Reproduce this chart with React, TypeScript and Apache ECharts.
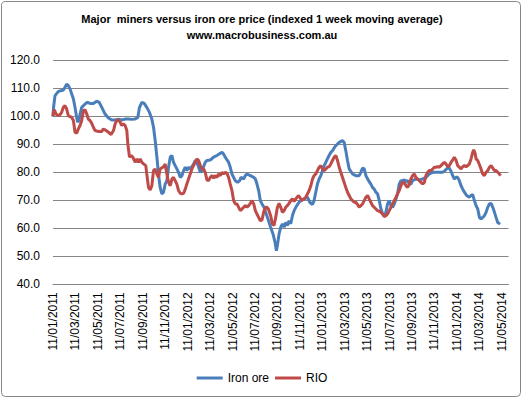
import React, { useEffect, useRef } from "react";
import * as echarts from "echarts";

// x = months since 11/01/2011 (dd/mm/yyyy)
const tickLabels = [
  "11/01/2011", "11/03/2011", "11/05/2011", "11/07/2011", "11/09/2011", "11/11/2011",
  "11/01/2012", "11/03/2012", "11/05/2012", "11/07/2012", "11/09/2012", "11/11/2012",
  "11/01/2013", "11/03/2013", "11/05/2013", "11/07/2013", "11/09/2013", "11/11/2013",
  "11/01/2014", "11/03/2014", "11/05/2014",
];

const ironOre: number[][] = [
  [0, 100], [0.05, 103.2], [0.18, 107.4], [0.48, 108.9], [0.77, 109.2], [0.92, 109.4],
  [1.07, 110.4], [1.22, 111.5], [1.37, 110.9], [1.52, 109.8], [1.67, 108.0], [1.82, 106.2],
  [1.96, 103.2], [2.11, 99.6], [2.2, 97.9], [2.32, 98.5], [2.41, 100.8], [2.56, 103.2],
  [2.86, 104.4], [3.07, 105.0], [3.3, 104.6], [3.6, 104.6], [3.9, 105.4], [4.11, 105.0],
  [4.35, 103.2], [4.64, 100.8], [4.94, 99.4], [5.24, 98.7], [5.54, 98.7], [5.83, 99.0],
  [6.13, 98.7], [6.43, 99.0], [6.73, 99.0], [7.02, 98.9], [7.32, 99.0], [7.56, 99.6],
  [7.71, 103.2], [7.92, 105.0], [8.13, 104.6], [8.36, 103.2], [8.6, 101.4], [8.81, 99.0],
  [8.96, 96.1], [9.11, 91.3], [9.26, 85.4], [9.4, 79.4], [9.55, 74.6], [9.7, 72.3],
  [9.85, 72.9], [10.0, 75.8], [10.15, 77.0], [10.3, 81.8], [10.45, 85.4], [10.6, 86.0],
  [10.74, 83.6], [10.89, 82.4], [11.04, 81.2], [11.19, 80.0], [11.34, 78.2], [11.49, 78.8],
  [11.64, 80.6], [11.79, 81.8], [11.93, 80.6], [12.08, 81.8], [12.23, 81.2], [12.38, 82.0],
  [12.53, 83.0], [12.68, 84.2], [12.83, 83.6], [12.98, 81.8], [13.13, 80.0], [13.27, 80.6],
  [13.42, 82.0], [13.57, 83.6], [13.72, 84.2], [14.02, 84.4], [14.32, 85.4], [14.61, 86.0],
  [14.91, 86.8], [15.06, 87.1], [15.21, 86.5], [15.36, 85.4], [15.51, 84.4], [15.65, 83.6],
  [15.8, 81.8], [15.95, 79.4], [16.1, 78.2], [16.25, 77.0], [16.46, 76.4], [16.64, 77.0],
  [16.76, 78.2], [16.99, 77.6], [17.14, 78.8], [17.29, 79.4], [17.59, 78.8], [17.89, 78.2],
  [18.04, 77.6], [18.18, 75.8], [18.33, 73.5], [18.48, 69.9], [18.63, 68.7], [18.81, 67.5],
  [19.11, 63.9], [19.4, 60.4], [19.61, 58.0], [19.79, 55.0], [19.91, 52.0], [20.0, 53.8],
  [20.15, 58.0], [20.3, 60.4], [20.45, 61.6], [20.6, 60.4], [20.74, 62.1], [20.89, 61.0],
  [21.04, 62.7], [21.19, 61.6], [21.34, 64.5], [21.49, 66.3], [21.64, 67.5], [21.93, 69.3],
  [22.08, 69.9], [22.38, 70.5], [22.68, 71.1], [22.89, 69.3], [23.13, 68.5], [23.27, 69.9],
  [23.42, 72.9], [23.57, 75.8], [23.72, 77.6], [23.87, 78.8], [24.02, 80.6], [24.17, 82.4],
  [24.32, 83.6], [24.46, 84.8], [24.61, 86.0], [24.76, 87.1], [24.91, 87.7], [25.06, 88.7],
  [25.21, 89.5], [25.51, 90.7], [25.8, 91.3], [25.95, 90.7], [26.1, 87.7], [26.25, 84.2],
  [26.4, 81.2], [26.7, 79.4], [26.99, 78.8], [27.29, 78.8], [27.44, 80.0], [27.59, 81.5],
  [27.74, 81.2], [27.89, 78.8], [28.13, 77.0], [28.33, 75.8], [28.48, 74.6], [28.63, 74.0],
  [28.78, 72.9], [28.93, 72.3], [29.08, 69.9], [29.23, 66.9], [29.38, 65.1], [29.52, 64.5],
  [29.67, 65.7], [29.82, 68.7], [29.97, 69.9], [30.12, 68.1], [30.27, 67.5], [30.42, 68.7],
  [30.57, 70.5], [30.71, 72.3], [30.86, 75.8], [31.01, 77.0], [31.16, 77.0], [31.31, 77.3],
  [31.46, 76.8], [31.61, 77.0], [31.76, 75.8], [31.9, 75.8], [32.05, 77.0], [32.35, 77.6],
  [32.65, 77.3], [32.95, 77.6], [33.24, 78.2], [33.54, 79.4], [33.84, 80.0], [34.14, 80.0],
  [34.43, 80.0], [34.73, 80.0], [34.88, 80.4], [35.09, 81.2], [35.27, 81.8], [35.48, 80.4],
  [35.63, 78.8], [35.77, 77.6], [35.92, 78.2], [36.07, 78.2], [36.22, 77.0], [36.37, 75.2],
  [36.52, 74.0], [36.67, 72.9], [36.88, 71.7], [37.11, 71.1], [37.26, 71.7], [37.41, 72.0],
  [37.56, 69.9], [37.71, 68.1], [37.86, 66.9], [38.01, 63.9], [38.15, 63.3], [38.3, 63.9],
  [38.45, 64.5], [38.6, 65.7], [38.75, 67.5], [38.9, 68.7], [39.05, 68.9], [39.2, 67.5],
  [39.35, 65.7], [39.49, 63.9], [39.64, 62.1], [39.85, 61.5],
];

const rio: number[][] = [
  [0, 100], [0.03, 101.4], [0.12, 102.3], [0.27, 100.8], [0.48, 100.2], [0.63, 100.6],
  [0.77, 101.4], [0.92, 103.2], [1.07, 103.8], [1.22, 102.6], [1.37, 100.2], [1.52, 99.9],
  [1.67, 99.6], [1.82, 98.5], [1.96, 94.3], [2.11, 94.0], [2.26, 95.5], [2.41, 96.7],
  [2.56, 98.5], [2.71, 102.0], [2.86, 102.3], [3.01, 100.8], [3.15, 99.0], [3.3, 98.5],
  [3.45, 97.5], [3.6, 96.1], [3.75, 94.9], [4.05, 94.6], [4.35, 94.6], [4.49, 95.5],
  [4.73, 94.9], [4.94, 94.3], [5.18, 93.5], [5.39, 94.9], [5.54, 97.3], [5.68, 98.5],
  [5.83, 98.7], [5.98, 97.9], [6.13, 96.7], [6.28, 97.3], [6.43, 96.7], [6.58, 94.9],
  [6.67, 90.1], [6.82, 85.4], [6.96, 86.0], [7.11, 85.4], [7.32, 83.6], [7.47, 84.8],
  [7.62, 83.6], [7.77, 84.8], [7.92, 83.6], [8.07, 83.0], [8.27, 82.4], [8.36, 79.4],
  [8.51, 74.6], [8.66, 73.7], [8.81, 75.2], [8.96, 80.6], [9.11, 81.2], [9.26, 79.4],
  [9.4, 78.2], [9.55, 81.2], [9.85, 82.0], [10.0, 83.0], [10.15, 79.4], [10.3, 76.4],
  [10.45, 75.2], [10.6, 77.6], [10.74, 78.2], [10.89, 77.0], [11.04, 75.8], [11.19, 73.5],
  [11.34, 72.5], [11.49, 72.3], [11.64, 72.5], [11.79, 74.0], [11.93, 75.8], [12.08, 77.6],
  [12.23, 79.4], [12.38, 81.2], [12.53, 82.4], [12.68, 83.6], [12.83, 84.8], [12.98, 84.2],
  [13.13, 82.4], [13.27, 81.2], [13.42, 81.2], [13.57, 80.0], [13.72, 77.3], [13.87, 77.0],
  [14.02, 78.2], [14.17, 78.8], [14.32, 77.9], [14.46, 78.8], [14.61, 78.2], [14.76, 79.4],
  [14.91, 78.8], [15.06, 80.0], [15.21, 79.4], [15.36, 80.0], [15.51, 79.6], [15.65, 78.2],
  [15.8, 75.8], [15.95, 73.5], [16.1, 69.9], [16.25, 68.7], [16.4, 68.7], [16.55, 67.5],
  [16.7, 66.3], [16.85, 66.9], [16.99, 67.5], [17.14, 68.1], [17.29, 67.5], [17.44, 68.1],
  [17.59, 68.9], [17.74, 69.9], [17.89, 68.7], [18.04, 66.3], [18.18, 65.1], [18.33, 63.9],
  [18.48, 62.7], [18.63, 63.0], [18.81, 66.3], [19.02, 67.7], [19.2, 66.9], [19.4, 64.5],
  [19.55, 61.6], [19.7, 61.0], [19.85, 63.9], [20.0, 67.5], [20.15, 68.9], [20.3, 67.5],
  [20.45, 65.7], [20.6, 66.3], [20.74, 67.5], [20.89, 68.1], [21.04, 68.9], [21.19, 69.9],
  [21.34, 70.5], [21.49, 69.6], [21.64, 70.5], [21.87, 71.7], [21.99, 71.1], [22.17, 69.9],
  [22.38, 70.5], [22.53, 71.1], [22.68, 72.3], [22.83, 73.5], [22.98, 75.2], [23.13, 77.6],
  [23.27, 78.8], [23.42, 79.4], [23.57, 80.6], [23.72, 81.8], [23.87, 82.4], [24.02, 81.2],
  [24.17, 80.6], [24.32, 81.2], [24.46, 81.8], [24.61, 82.0], [24.76, 83.0], [24.91, 84.2],
  [25.06, 85.4], [25.21, 86.0], [25.36, 84.2], [25.51, 81.8], [25.65, 80.0], [25.8, 78.2],
  [25.95, 76.4], [26.1, 74.6], [26.25, 72.9], [26.4, 71.7], [26.55, 70.5], [26.7, 69.9],
  [26.85, 69.3], [26.99, 69.3], [27.14, 68.5], [27.29, 67.5], [27.44, 68.1], [27.59, 68.7],
  [27.74, 69.9], [27.89, 71.1], [28.04, 71.7], [28.19, 70.5], [28.33, 69.3], [28.48, 68.1],
  [28.63, 67.5], [28.78, 66.9], [28.93, 66.3], [29.08, 66.1], [29.23, 65.7], [29.38, 65.1],
  [29.52, 64.2], [29.67, 64.5], [29.82, 65.1], [29.97, 66.3], [30.12, 67.5], [30.27, 68.7],
  [30.42, 69.9], [30.57, 71.1], [30.71, 72.3], [30.86, 73.5], [31.01, 75.2], [31.16, 76.4],
  [31.31, 76.4], [31.46, 75.2], [31.61, 74.6], [31.76, 75.8], [31.9, 77.6], [32.05, 78.8],
  [32.2, 79.4], [32.35, 78.2], [32.5, 77.6], [32.65, 77.0], [32.8, 76.4], [32.95, 75.8],
  [33.1, 76.4], [33.24, 78.8], [33.39, 80.0], [33.54, 80.6], [33.69, 80.6], [33.84, 81.2],
  [33.99, 81.8], [34.14, 81.8], [34.29, 82.0], [34.43, 81.8], [34.58, 82.4], [34.73, 83.0],
  [34.88, 83.6], [35.03, 83.0], [35.18, 82.0], [35.33, 82.4], [35.48, 83.6], [35.63, 84.4],
  [35.77, 85.4], [35.92, 84.4], [36.07, 82.4], [36.22, 81.8], [36.37, 81.2], [36.52, 82.0],
  [36.67, 82.4], [36.82, 82.0], [36.96, 82.4], [37.11, 83.0], [37.26, 84.8], [37.41, 87.1],
  [37.5, 88.0], [37.62, 86.8], [37.71, 84.8], [37.86, 84.2], [38.01, 82.7], [38.15, 81.2],
  [38.3, 79.4], [38.45, 78.8], [38.6, 80.0], [38.75, 80.6], [38.9, 81.8], [39.05, 82.4],
  [39.2, 81.5], [39.35, 80.6], [39.49, 80.6], [39.64, 80.0], [39.79, 79.4], [39.88, 78.8],
];

const FONT = "'Liberation Sans', Arial, sans-serif";

export default function App() {
  const ref = useRef<HTMLDivElement>(null);
  useEffect(() => {
    const chart = echarts.init(ref.current!, null, { renderer: "svg" });
    chart.setOption({
      animation: false,
      backgroundColor: "#ffffff",
      textStyle: { fontFamily: FONT },
      title: [
        {
          text: "Major  miners versus iron ore price (indexed 1 week moving average)",
          left: "center",
          top: 13,
          padding: 0,
          textStyle: { fontSize: 11, fontWeight: "bold", color: "#000", fontFamily: FONT },
        },
        {
          text: "www.macrobusiness.com.au",
          left: "center",
          top: 29,
          padding: 0,
          textStyle: { fontSize: 11, fontWeight: "bold", color: "#000", fontFamily: FONT },
        },
      ],
      graphic: [
        {
          type: "rect",
          shape: { x: 1.5, y: 1.5, width: 519, height: 395, r: 4 },
          style: { fill: "none", stroke: "#868686", lineWidth: 1 },
          silent: true,
          z: -1,
        },
      ],
      legend: {
        top: 372,
        left: "center",
        padding: 0,
        itemWidth: 26,
        itemHeight: 3,
        itemGap: 6,
        icon: "rect",
        textStyle: { fontSize: 12, color: "#000", fontFamily: FONT },
        data: ["Iron ore", "RIO"],
      },
      grid: { left: 53, right: 15.5, top: 60.3, bottom: 114.7, containLabel: false },
      xAxis: {
        type: "value",
        min: 0,
        max: 40.6,
        interval: 2,
        axisLine: { show: true, lineStyle: { color: "#868686", width: 1 } },
        axisTick: { show: false },
        splitLine: { show: false },
        axisLabel: {
          rotate: 90,
          margin: 8,
          fontSize: 12,
          color: "#000",
          fontFamily: FONT,
          showMaxLabel: false,
          formatter: (v: number) => {
            const i = Math.round(v / 2);
            return Math.abs(v - i * 2) < 1e-6 && tickLabels[i] ? tickLabels[i] : "";
          },
        },
      },
      yAxis: {
        type: "value",
        min: 40,
        max: 120,
        interval: 10,
        axisLine: { show: false },
        axisTick: { show: false },
        splitLine: { show: true, lineStyle: { color: "#868686", width: 1 } },
        axisLabel: {
          margin: 13,
          fontSize: 12,
          color: "#000",
          fontFamily: FONT,
          formatter: (v: number) => v.toFixed(1),
        },
      },
      series: [
        {
          name: "Iron ore",
          type: "line",
          data: ironOre,
          showSymbol: false,
          symbol: "none",
          lineStyle: { color: "#4A7EBB", width: 3 },
          itemStyle: { color: "#4A7EBB" },
          z: 2,
        },
        {
          name: "RIO",
          type: "line",
          data: rio,
          showSymbol: false,
          symbol: "none",
          lineStyle: { color: "#BE4B48", width: 3 },
          itemStyle: { color: "#BE4B48" },
          z: 3,
        },
      ],
    });
    return () => chart.dispose();
  }, []);
  return (
    <div
      ref={ref}
      style={{ position: "fixed", left: 0, top: 0, width: 524, height: 399, background: "#fff" }}
    />
  );
}
